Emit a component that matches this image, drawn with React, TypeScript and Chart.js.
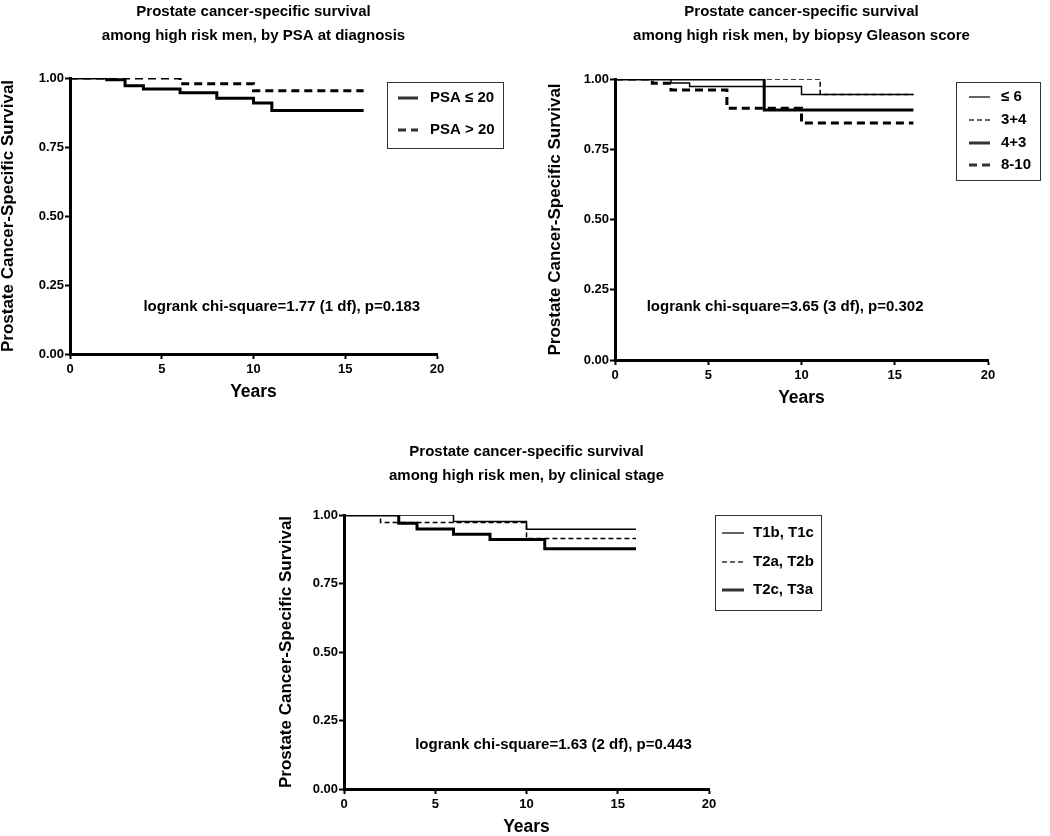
import { useEffect, useRef } from "react"
import Chart, { ChartConfiguration, Plugin } from "chart.js/auto"

const FONT = "'Liberation Sans', Arial, Helvetica, sans-serif"
Chart.defaults.font.family = FONT
Chart.defaults.color = "#000"

// step times (years) and survival after each step
const psaLowYears = [0, 2, 3, 4, 6, 8, 10, 11, 16]
const psaLowSurvival = [1, 0.994, 0.972, 0.96, 0.947, 0.927, 0.909, 0.882, 0.882]
const psaHighYears = [0, 6, 10, 16]
const psaHighSurvival = [1, 0.979, 0.954, 0.954]

const gleason6Years = [0, 3, 4, 10, 16]
const gleason6Survival = [1, 0.986, 0.973, 0.945, 0.945]
const gleason34Years = [0, 11, 16]
const gleason34Survival = [1, 0.945, 0.945]
const gleason43Years = [0, 8, 16]
const gleason43Survival = [1, 0.89, 0.89]
const gleason810Years = [0, 2, 3, 6, 10, 16]
const gleason810Survival = [1, 0.985, 0.961, 0.896, 0.843, 0.843]

const stageT1Years = [0, 6, 10, 16]
const stageT1Survival = [1, 0.976, 0.948, 0.948]
const stageT2abYears = [0, 2, 10, 16]
const stageT2abSurvival = [1, 0.973, 0.914, 0.914]
const stageT2cYears = [0, 3, 4, 6, 8, 11, 16]
const stageT2cSurvival = [1, 0.97, 0.949, 0.93, 0.911, 0.877, 0.877]

const yearTicks = [0, 5, 10, 15, 20]
const survivalTicks = [0, 0.25, 0.5, 0.75, 1]

const THICK = 3
const THIN = 1.5
const LONG_DASH = [8, 5]
const SHORT_DASH = [5, 3]

type Line = { label: string; years: number[]; survival: number[]; width: number; dash: number[] }
type PanelSpec = {
	title: string[]
	lines: Line[]
	stat: string
	statAt: [number, number]
	frame: { left: number; top: number; width: number; height: number }
	area: { left: number; top: number; right: number; bottom: number }
	yTitleGap: number
	yearsGap: number
	legend: { x: number; y: number; w: number; h: number; rows: number[]; lineX: number; lineLen: number; textX: number }
}

const panels: PanelSpec[] = [
	{
		title: ["Prostate cancer-specific survival", "among high risk men, by PSA at diagnosis"],
		lines: [
			{ label: "PSA ≤ 20", years: psaLowYears, survival: psaLowSurvival, width: THICK, dash: [] },
			{ label: "PSA > 20", years: psaHighYears, survival: psaHighSurvival, width: THICK, dash: LONG_DASH }
		],
		stat: "logrank chi-square=1.77 (1 df), p=0.183",
		statAt: [4, 0.17],
		frame: { left: 0, top: 0, width: 525, height: 410 },
		area: { left: 70, top: 78, right: 437, bottom: 354 },
		yTitleGap: 0,
		yearsGap: 9,
		legend: { x: 387, y: 82, w: 116, h: 66, rows: [98, 130], lineX: 398, lineLen: 20, textX: 430 }
	},
	{
		title: ["Prostate cancer-specific survival", "among high risk men, by biopsy Gleason score"],
		lines: [
			{ label: "≤ 6", years: gleason6Years, survival: gleason6Survival, width: THIN, dash: [] },
			{ label: "3+4", years: gleason34Years, survival: gleason34Survival, width: THIN, dash: SHORT_DASH },
			{ label: "4+3", years: gleason43Years, survival: gleason43Survival, width: THICK, dash: [] },
			{ label: "8-10", years: gleason810Years, survival: gleason810Survival, width: THICK, dash: LONG_DASH }
		],
		stat: "logrank chi-square=3.65 (3 df), p=0.302",
		statAt: [1.7, 0.19],
		frame: { left: 525, top: 0, width: 525, height: 410 },
		area: { left: 90, top: 79, right: 463, bottom: 360 },
		yTitleGap: 21.5,
		yearsGap: 3,
		legend: { x: 431, y: 82, w: 84, h: 98, rows: [97, 120, 143, 165], lineX: 444, lineLen: 21, textX: 476 }
	},
	{
		title: ["Prostate cancer-specific survival", "among high risk men, by clinical stage"],
		lines: [
			{ label: "T1b, T1c", years: stageT1Years, survival: stageT1Survival, width: THIN, dash: [] },
			{ label: "T2a, T2b", years: stageT2abYears, survival: stageT2abSurvival, width: THIN, dash: SHORT_DASH },
			{ label: "T2c, T3a", years: stageT2cYears, survival: stageT2cSurvival, width: THICK, dash: [] }
		],
		stat: "logrank chi-square=1.63 (2 df), p=0.443",
		statAt: [3.9, 0.16],
		frame: { left: 262, top: 440, width: 620, height: 396 },
		area: { left: 82, top: 75, right: 447, bottom: 349 },
		yTitleGap: 15.5,
		yearsGap: 0,
		legend: { x: 453, y: 75, w: 106, h: 95, rows: [93, 122, 150], lineX: 460, lineLen: 22, textX: 491 }
	}
]

// legend box drawn from the datasets themselves
const legendPlugin = (spec: PanelSpec): Plugin<"line"> => ({
	id: "kmLegend",
	afterDraw(chart) {
		const ctx = chart.ctx
		const g = spec.legend
		ctx.save()
		ctx.fillStyle = "#fff"
		ctx.fillRect(g.x, g.y, g.w, g.h)
		ctx.strokeStyle = "#333"
		ctx.lineWidth = 1
		ctx.strokeRect(g.x + 0.5, g.y + 0.5, g.w, g.h)
		ctx.font = `bold 15px ${FONT}`
		ctx.fillStyle = "#000"
		ctx.textBaseline = "middle"
		chart.data.datasets.forEach((ds: any, i) => {
			const y = g.rows[i]
			ctx.beginPath()
			ctx.lineWidth = ds.borderWidth
			ctx.setLineDash(ds.borderDash || [])
			ctx.moveTo(g.lineX, y)
			ctx.lineTo(g.lineX + g.lineLen, y)
			ctx.stroke()
			ctx.setLineDash([])
			ctx.fillText(ds.label, g.textX, y)
		})
		ctx.restore()
	}
})

const statPlugin = (spec: PanelSpec): Plugin<"line"> => ({
	id: "kmStat",
	afterDraw(chart) {
		const { ctx, scales } = chart
		ctx.save()
		ctx.font = `bold 15px ${FONT}`
		ctx.fillStyle = "#000"
		ctx.textAlign = "left"
		ctx.textBaseline = "middle"
		ctx.fillText(spec.stat, scales.x.getPixelForValue(spec.statAt[0]), scales.y.getPixelForValue(spec.statAt[1]))
		ctx.restore()
	}
})

function makeConfig(spec: PanelSpec): ChartConfiguration<"line"> {
	const { frame, area } = spec
	const axisGrid = {
		drawOnChartArea: false,
		drawTicks: true,
		tickLength: 5,
		tickWidth: 2,
		tickColor: "#000"
	}
	return {
		type: "line",
		data: {
			datasets: spec.lines.map((l) => ({
				label: l.label,
				data: l.years.map((x, i) => ({ x, y: l.survival[i] })),
				borderColor: "#000",
				borderWidth: l.width,
				borderDash: l.dash,
				borderJoinStyle: "miter",
				borderCapStyle: "butt",
				stepped: "before",
				pointRadius: 0,
				fill: false
			}))
		},
		options: {
			animation: false,
			responsive: true,
			maintainAspectRatio: false,
			layout: { padding: { left: 0, top: 0, right: frame.width - area.right, bottom: 0 } },
			plugins: {
				legend: { display: false },
				tooltip: { enabled: false },
				title: {
					display: true,
					text: spec.title,
					fullSize: false,
					color: "#000",
					font: { size: 15, weight: "bold", lineHeight: "24px" },
					padding: { top: 0, bottom: area.top - 48 }
				}
			},
			scales: {
				x: {
					type: "linear",
					min: 0,
					max: 20,
					afterFit(s) {
						s.height = frame.height - area.bottom
					},
					afterBuildTicks(s) {
						s.ticks = yearTicks.map((value) => ({ value }))
					},
					grid: axisGrid,
					border: { display: true, color: "#000", width: 3 },
					ticks: { color: "#000", padding: 3, maxRotation: 0, font: { size: 13, weight: "bold" } },
					title: {
						display: true,
						text: "Years",
						color: "#000",
						font: { size: 17.5, weight: "bold", lineHeight: 1 },
						padding: { top: 0, bottom: spec.yearsGap }
					}
				},
				y: {
					type: "linear",
					min: 0,
					max: 1,
					afterFit(s) {
						s.width = area.left
					},
					afterBuildTicks(s) {
						s.ticks = survivalTicks.map((value) => ({ value }))
					},
					grid: axisGrid,
					border: { display: true, color: "#000", width: 3 },
					ticks: {
						color: "#000",
						padding: 1,
						font: { size: 13, weight: "bold" },
						callback: (v) => Number(v).toFixed(2)
					},
					title: {
						display: true,
						text: "Prostate Cancer-Specific Survival",
						color: "#000",
						font: { size: 17, weight: "bold", lineHeight: 1 },
						padding: { top: spec.yTitleGap, bottom: 0 }
					}
				}
			}
		},
		plugins: [legendPlugin(spec), statPlugin(spec)]
	}
}

function KmPanel({ spec }: { spec: PanelSpec }) {
	const canvasRef = useRef<HTMLCanvasElement>(null)

	useEffect(() => {
		const chart = new Chart(canvasRef.current as HTMLCanvasElement, makeConfig(spec))
		return () => {
			chart.destroy()
		}
	}, [spec])

	const f = spec.frame
	return (
		<div style={{ position: "absolute", left: f.left, top: f.top, width: f.width, height: f.height }}>
			<canvas ref={canvasRef} />
		</div>
	)
}

export default function App() {
	return (
		<div style={{ position: "absolute", left: 0, top: 0, width: 1050, height: 836, background: "#fff", overflow: "hidden" }}>
			{panels.map((p, i) => (
				<KmPanel key={i} spec={p} />
			))}
		</div>
	)
}
